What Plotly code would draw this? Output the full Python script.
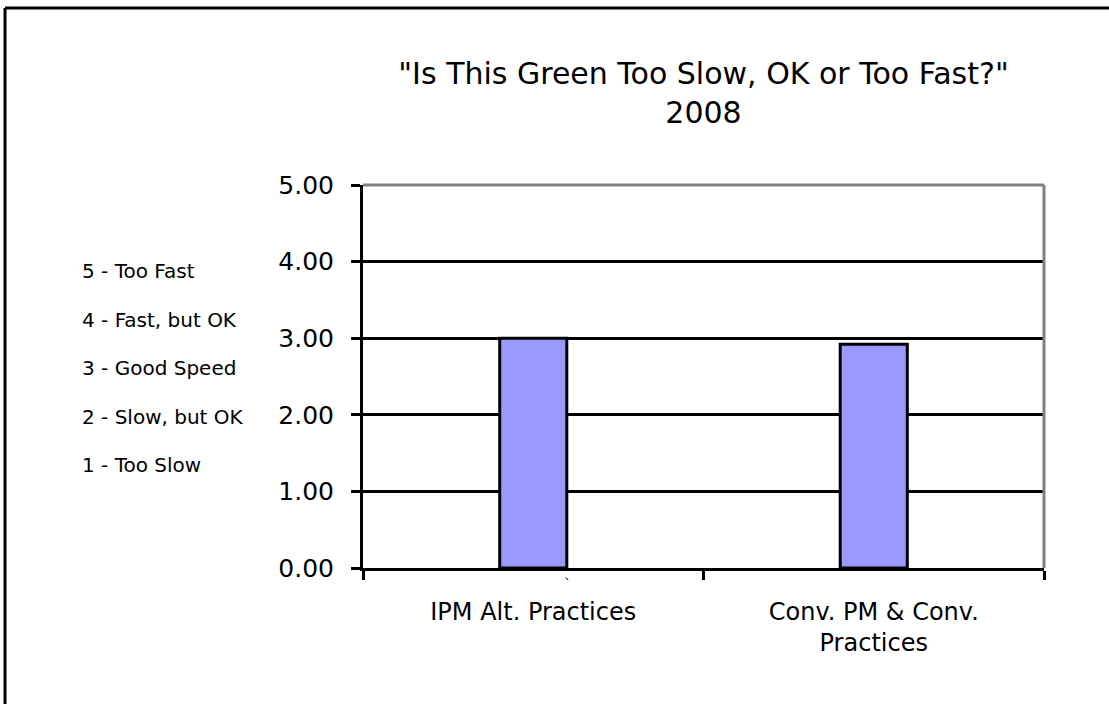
import plotly.graph_objects as go

categories = ["IPM Alt. Practices", "Conv. PM & Conv.<br>Practices"]
values = [3.00, 2.92]
y_ticks = [0, 1, 2, 3, 4, 5]
y_tick_labels = ["0.00", "1.00", "2.00", "3.00", "4.00", "5.00"]
scale_labels = ["5 - Too Fast", "4 - Fast, but OK", "3 - Good Speed", "2 - Slow, but OK", "1 - Too Slow"]
title_text = "\"Is This Green Too Slow, OK or Too Fast?\"<br>2008"

W, H = 1109, 704
L, R, T, B = 363, 65, 185, 136
pw, ph = W - L - R, H - T - B

def px(x):
    return (x - L) / pw

def py(y):
    return (H - B - y) / ph

FONT = "DejaVu Sans"

fig = go.Figure()
fig.add_trace(go.Bar(
    x=categories, y=values, width=0.197,
    marker=dict(color="#9999FF", line=dict(color="black", width=3)),
    showlegend=False, hoverinfo="skip",
))

fig.update_layout(
    width=W, height=H,
    margin=dict(l=L, r=R, t=T, b=B),
    paper_bgcolor="white", plot_bgcolor="white",
    title=dict(text=title_text, x=0.5, xref="paper", xanchor="center",
               y=(H - 84) / H, yref="container", yanchor="middle",
               font=dict(family=FONT, size=30, color="black")),
    font=dict(family=FONT, color="black"),
)
fig.update_xaxes(
    type="category", tickson="boundaries", ticks="outside", ticklen=9,
    tickwidth=3, tickcolor="black", showline=True, linecolor="black", linewidth=3,
    tickfont=dict(family=FONT, size=24, color="black"), showgrid=False,
    ticklabelstandoff=20, mirror=False, range=[-0.5, 1.5],
)
fig.update_yaxes(
    range=[0, 5], tickvals=y_ticks, ticktext=y_tick_labels, ticks="outside",
    ticklen=9, tickwidth=3, tickcolor="black", showline=True, linecolor="black",
    linewidth=3, showgrid=True, gridcolor="black", gridwidth=3,
    tickfont=dict(family=FONT, size=25, color="black"), zeroline=False,
    ticklabelstandoff=12,
)

# gray top and right frame of the plot area
fig.add_shape(type="line", xref="paper", yref="paper", x0=0, x1=1, y0=1, y1=1,
              line=dict(color="#808080", width=3))
fig.add_shape(type="line", xref="paper", yref="paper", x0=1, x1=1, y0=0, y1=1,
              line=dict(color="#808080", width=3))
# outer chart border (top and left visible)
fig.add_shape(type="line", xref="paper", yref="paper", x0=px(5), x1=px(1115), y0=py(8), y1=py(8),
              line=dict(color="black", width=3))
fig.add_shape(type="line", xref="paper", yref="paper", x0=px(5), x1=px(5), y0=py(8), y1=py(710),
              line=dict(color="black", width=3))

for i, lab in enumerate(scale_labels):
    fig.add_annotation(text=lab, xref="paper", yref="paper", x=px(80), y=py(271 + i * 48.5),
                       xanchor="left", yanchor="middle", showarrow=False,
                       font=dict(family=FONT, size=20, color="black"))

fig.add_annotation(text="`", xref="paper", yref="paper", x=px(567), y=py(584),
                   xanchor="center", yanchor="middle", showarrow=False,
                   font=dict(family=FONT, size=14, color="black"))

fig.write_html("out.html", config={"displayModeBar": False},
               post_script="document.body.style.margin='0';")
